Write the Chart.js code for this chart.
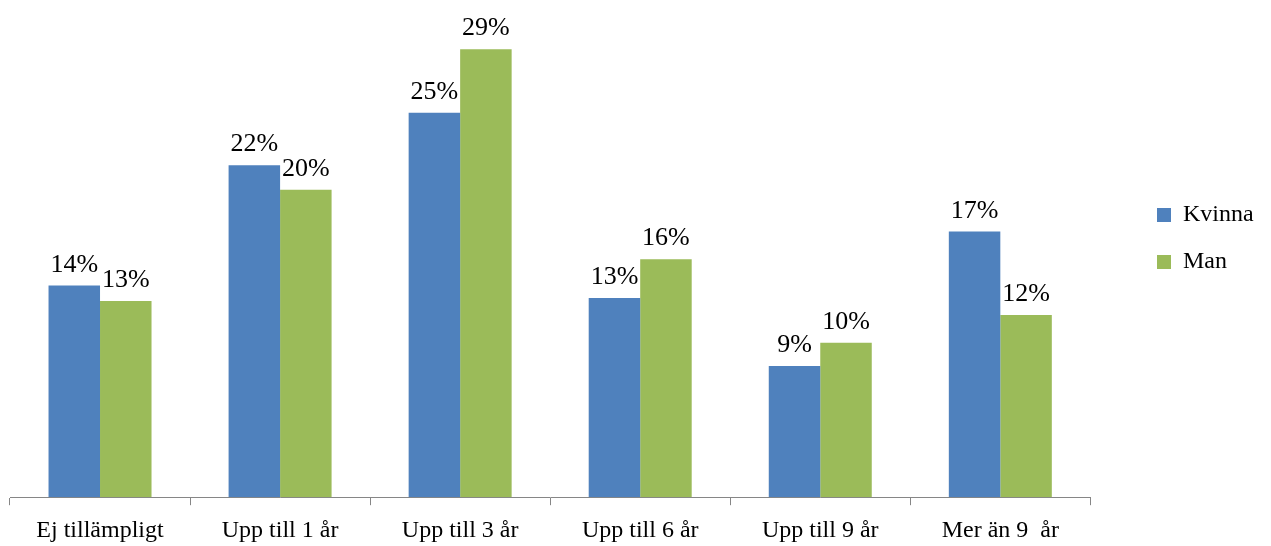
<!DOCTYPE html>
<html>
<head>
<meta charset="utf-8">
<script src="https://cdn.jsdelivr.net/npm/chart.js@4.4.1/dist/chart.umd.min.js"></script>
<style>
  html, body { margin: 0; padding: 0; background: #fff; }
  .chart-wrap { width: 1271px; height: 546px; position: relative; }
</style>
</head>
<body>
<div class="chart-wrap"><canvas id="myChart"></canvas></div>
<script>
// data
const categories = ["Ej tillämpligt", "Upp till 1 år", "Upp till 3 år", "Upp till 6 år", "Upp till 9 år", "Mer än 9  år"];
const kvinnaValues = [13.7, 21.5, 24.9, 12.9, 8.5, 17.2];
const manValues = [12.7, 19.9, 29.0, 15.4, 10.0, 11.8];
const kvinnaLabels = ["14%", "22%", "25%", "13%", "9%", "17%"];
const manLabels = ["13%", "20%", "29%", "16%", "10%", "12%"];

const fontFamily = "'Liberation Serif', 'DejaVu Serif', serif";

// value labels above bars
const barLabels = {
  id: "barLabels",
  afterDatasetsDraw(chart) {
    const ctx = chart.ctx;
    const texts = [kvinnaLabels, manLabels];
    ctx.save();
    ctx.font = "26px " + fontFamily;
    ctx.fillStyle = "#000";
    ctx.textAlign = "center";
    ctx.textBaseline = "alphabetic";
    chart.data.datasets.forEach((ds, i) => {
      chart.getDatasetMeta(i).data.forEach((bar, j) => {
        ctx.fillText(texts[i][j], bar.x, bar.y - 14);
      });
    });
    ctx.restore();
  },
};

// move the legend a bit right and up, like the original
const legendShift = {
  id: "legendShift",
  afterLayout(chart) {
    const lg = chart.legend;
    const w = lg.right - lg.left;
    lg.left = 1134;
    lg.right = lg.left + w;
    lg.top -= 41;
    lg.bottom -= 41;
  },
};

const ctx = document.getElementById("myChart").getContext("2d");

new Chart(ctx, {
  type: "bar",
  data: {
    labels: categories,
    datasets: [
      {
        label: "Kvinna",
        data: kvinnaValues,
        backgroundColor: "#4F81BD",
        categoryPercentage: 0.572,
        barPercentage: 1,
      },
      {
        label: "Man",
        data: manValues,
        backgroundColor: "#9BBB59",
        categoryPercentage: 0.572,
        barPercentage: 1,
      },
    ],
  },
  options: {
    responsive: true,
    maintainAspectRatio: false,
    animation: false,
    layout: {
      padding: { left: 10, right: 51, top: 3, bottom: -10 },
    },
    plugins: {
      legend: {
        position: "right",
        labels: {
          color: "#000",
          font: { size: 24, family: fontFamily },
          boxWidth: 14,
          boxHeight: 14,
          padding: 23,
        },
      },
      tooltip: { enabled: false },
    },
    scales: {
      y: {
        display: false,
        min: 0,
        max: 32,
      },
      x: {
        border: { display: true, color: "#868686" },
        grid: {
          display: true,
          drawOnChartArea: false,
          drawTicks: true,
          tickLength: 8,
          color: "#868686",
        },
        ticks: {
          color: "#000",
          font: { size: 24, family: fontFamily },
          padding: 11,
          maxRotation: 0,
        },
      },
    },
  },
  plugins: [barLabels, legendShift],
});
</script>
</body>
</html>
